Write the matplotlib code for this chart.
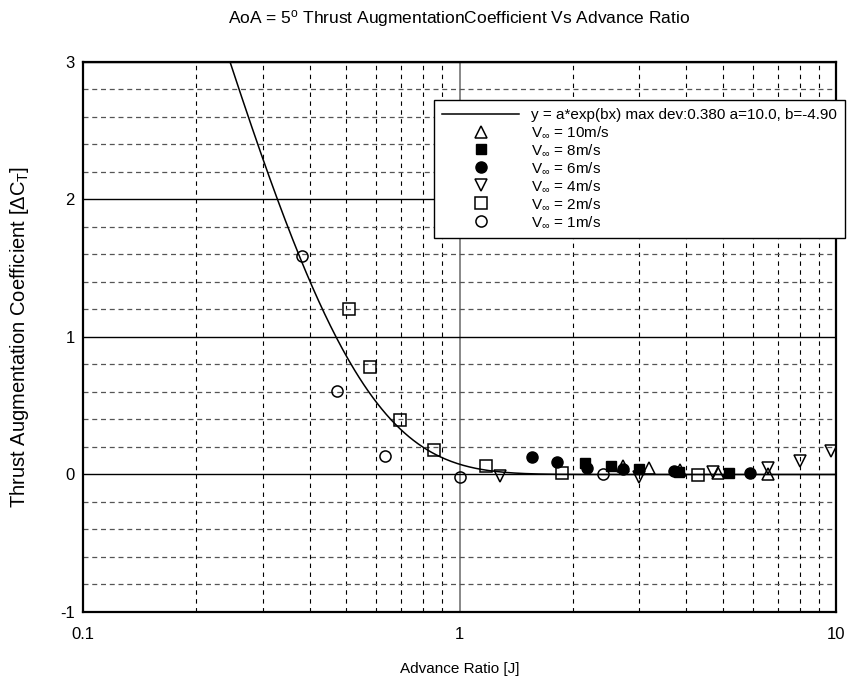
import numpy as np
import matplotlib
matplotlib.use("Agg")
import matplotlib.pyplot as plt
from matplotlib.ticker import MultipleLocator, LogLocator, NullFormatter

plt.rcParams['font.family'] = ['Liberation Sans', 'DejaVu Sans']
plt.rcParams['mathtext.fontset'] = 'custom'
plt.rcParams['mathtext.rm'] = 'Liberation Sans'
plt.rcParams['mathtext.it'] = 'Liberation Sans:italic'
plt.rcParams['mathtext.bf'] = 'Liberation Sans:bold'

# fit parameters (from legend)
fit_a = 10.0
fit_b = -4.90

# measured points per free-stream velocity (J, dCT)
j_10 = [2.71, 3.19, 3.85, 4.87, 6.61]
ct_10 = [0.06, 0.045, 0.03, 0.012, 0.0]

j_8 = [2.16, 2.52, 3.00, 3.82, 5.21]
ct_8 = [0.08, 0.06, 0.04, 0.02, 0.012]

j_6 = [1.56, 1.81, 2.18, 2.71, 3.72, 5.89]
ct_6 = [0.126, 0.092, 0.05, 0.04, 0.022, 0.012]

j_4 = [1.28, 3.00, 4.72, 6.61, 8.02, 9.70]
ct_4 = [-0.012, -0.015, 0.017, 0.049, 0.097, 0.17]

j_2 = [0.51, 0.58, 0.695, 0.857, 1.174, 1.87, 4.29]
ct_2 = [1.20, 0.78, 0.398, 0.177, 0.06, 0.012, -0.007]

j_1 = [0.382, 0.472, 0.634, 1.0, 2.41]
ct_1 = [1.588, 0.604, 0.138, -0.017, 0.007]

fig = plt.figure(figsize=(8.49, 6.79), dpi=100)
ax = fig.add_axes([0.0978, 0.0987, 0.887, 0.81])

# fitted curve
xf = np.logspace(-1, 1, 500)
yf = fit_a * np.exp(fit_b * xf)
ax.plot(xf, yf, color='black', lw=1.1,
        label='y = a*exp(bx) max dev:0.380 a=10.0, b=-4.90', zorder=3)

ms = 8
ax.plot(j_10, ct_10, ls='none', marker='^', ms=ms, mfc='none', mec='black', mew=1.1,
        label=r'V$_{\infty}$ = 10m/s', zorder=4)
ax.plot(j_8, ct_8, ls='none', marker='s', ms=7.5, mfc='black', mec='black',
        label=r'V$_{\infty}$ = 8m/s', zorder=4)
ax.plot(j_6, ct_6, ls='none', marker='o', ms=8, mfc='black', mec='black',
        label=r'V$_{\infty}$ = 6m/s', zorder=4)
ax.plot(j_4, ct_4, ls='none', marker='v', ms=ms, mfc='none', mec='black', mew=1.1,
        label=r'V$_{\infty}$ = 4m/s', zorder=4)
ax.plot(j_2, ct_2, ls='none', marker='s', ms=8.5, mfc='none', mec='black', mew=1.1,
        label=r'V$_{\infty}$ = 2m/s', zorder=4)
ax.plot(j_1, ct_1, ls='none', marker='o', ms=8, mfc='none', mec='black', mew=1.1,
        label=r'V$_{\infty}$ = 1m/s', zorder=4)

ax.set_xscale('log')
ax.set_xlim(0.1, 10)
ax.set_ylim(-1, 3)
ax.set_xticks([0.1, 1, 10], labels=['0.1', '1', '10'])
ax.xaxis.set_minor_locator(LogLocator(base=10, subs=np.arange(2, 10)))
ax.xaxis.set_minor_formatter(NullFormatter())
ax.set_yticks([-1, 0, 1, 2, 3], labels=['-1', '0', '1', '2', '3'])
ax.yaxis.set_minor_locator(MultipleLocator(0.2))

ax.set_axisbelow(True)
ax.xaxis.grid(True, which='major', color='#7f7f7f', ls='-', lw=1.3)
ax.xaxis.grid(True, which='minor', color='black', ls=(0, (4, 4)), lw=0.8)
ax.yaxis.grid(True, which='major', color='black', ls='-', lw=1.0)
ax.yaxis.grid(True, which='minor', color='#555555', ls=(0, (4, 3)), lw=0.9)

ax.tick_params(which='both', length=0)
ax.tick_params(axis='x', labelsize=12, pad=11)
ax.tick_params(axis='y', labelsize=12, pad=6)
for s in ax.spines.values():
    s.set_linewidth(1.6)
    s.set_zorder(5)

ax.set_xlabel('Advance Ratio [J]', fontsize=11, labelpad=14)
ax.set_ylabel(r'Thrust Augmentation Coefficient [$\Delta$C$_\mathrm{T}$]', fontsize=14.5, labelpad=21)
ax.set_title(r'AoA = 5$^\mathrm{o}$ Thrust AugmentationCoefficient Vs Advance Ratio',
             fontsize=12.5, pad=28)

leg = ax.legend(loc='upper left', bbox_to_anchor=(0.466, 0.931), fontsize=11,
                frameon=True, fancybox=False, framealpha=1, edgecolor='black',
                borderpad=0.55, labelspacing=0.17, handlelength=5.0,
                handletextpad=0.8, borderaxespad=0)
leg.get_frame().set_linewidth(1.0)
leg.set_zorder(6)

fig.savefig('out.png', dpi=100)
